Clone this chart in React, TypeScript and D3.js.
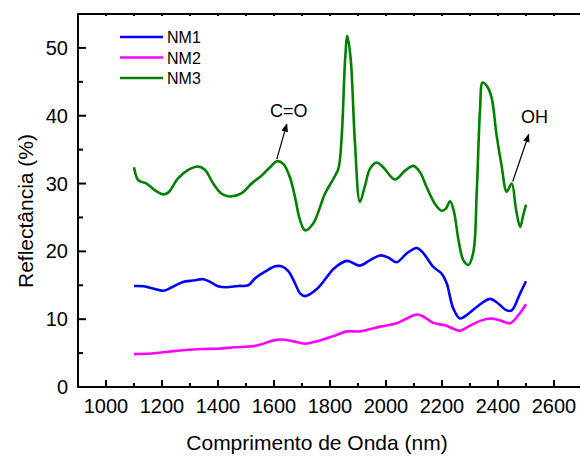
import React from 'react';
import * as d3 from 'd3';

// NM1 (blue)
const nm1Wave = [1100, 1135, 1170, 1205, 1235, 1275, 1310, 1348, 1372, 1400, 1430, 1472, 1508, 1532, 1568, 1604, 1627, 1651, 1675, 1693, 1711, 1752, 1794, 1812, 1860, 1907, 1943, 1979, 2008, 2038, 2074, 2110, 2133, 2169, 2199, 2217, 2240, 2264, 2288, 2324, 2371, 2395, 2431, 2449, 2479, 2500];
const nm1Refl = [14.9, 14.85, 14.5, 14.2, 14.7, 15.5, 15.7, 15.9, 15.5, 14.85, 14.7, 14.9, 15.0, 16.0, 17.0, 17.8, 17.8, 17.1, 15.3, 13.8, 13.4, 14.4, 16.5, 17.4, 18.6, 17.9, 18.7, 19.4, 19.1, 18.4, 19.7, 20.5, 19.75, 17.7, 16.7, 15.25, 11.6, 10.1, 10.6, 11.8, 13.0, 12.5, 11.3, 11.3, 13.8, 15.6];

// NM2 (magenta)
const nm2Wave = [1100, 1163, 1223, 1282, 1342, 1401, 1461, 1520, 1556, 1592, 1627, 1663, 1711, 1758, 1812, 1860, 1907, 1979, 2038, 2074, 2110, 2133, 2169, 2211, 2240, 2264, 2294, 2336, 2377, 2413, 2443, 2473, 2500];
const nm2Refl = [4.85, 4.95, 5.2, 5.45, 5.6, 5.65, 5.85, 6.0, 6.3, 6.8, 7.0, 6.8, 6.4, 6.8, 7.5, 8.2, 8.2, 8.9, 9.4, 10.1, 10.7, 10.4, 9.45, 9.1, 8.6, 8.3, 8.9, 9.75, 10.1, 9.75, 9.4, 10.6, 12.2];

// NM3 (green)
const nm3Wave = [1100, 1115, 1145, 1175, 1205, 1223, 1258, 1294, 1330, 1354, 1383, 1413, 1443, 1485, 1520, 1556, 1586, 1610, 1633, 1657, 1675, 1693, 1711, 1740, 1782, 1812, 1830, 1842, 1854, 1862, 1874, 1889, 1907, 1925, 1943, 1967, 1990, 2032, 2068, 2098, 2121, 2145, 2175, 2199, 2214, 2229, 2243, 2258, 2276, 2294, 2312, 2324, 2336, 2345, 2360, 2377, 2395, 2413, 2431, 2449, 2464, 2479, 2490, 2500];
const nm3Refl = [32.4, 30.5, 30.0, 29.0, 28.4, 28.7, 30.8, 32.0, 32.5, 32.0, 30.0, 28.5, 28.1, 28.6, 30.0, 31.2, 32.4, 33.3, 32.9, 30.9, 28.0, 24.6, 23.1, 24.1, 28.5, 30.7, 32.2, 37.1, 48.3, 51.8, 48.3, 36.1, 27.3, 29.7, 32.2, 33.1, 32.4, 30.6, 31.9, 32.6, 31.7, 29.5, 27.0, 26.0, 26.3, 27.4, 25.8, 21.9, 18.7, 18.0, 19.9, 28.7, 41.0, 44.9, 44.4, 42.7, 37.1, 32.6, 28.8, 30.0, 26.3, 23.6, 25.3, 26.9];

const seriesNames = ['NM1', 'NM2', 'NM3'];
const seriesColors = ['#0000ff', '#ff00ff', '#008000'];

const xMajorTicks = [1000, 1200, 1400, 1600, 1800, 2000, 2200, 2400, 2600];
const xMinorTicks = [900, 1100, 1300, 1500, 1700, 1900, 2100, 2300, 2500, 2700];
const yMajorTicks = [0, 10, 20, 30, 40, 50];
const yMinorTicks = [5, 15, 25, 35, 45];

// annotations: [label, wavelength at curve, reflectance at curve]
const annCO = { label: 'C=O', wave: 1610, refl: 33.3 };
const annOH = { label: 'OH', wave: 2449, refl: 30.0 };

const W = 580, H = 458;
const left = 78, right = 582, top = 14, bottom = 387;
const font = '"Liberation Sans", Arial, sans-serif';

export default function App() {
  const x = d3.scaleLinear().domain([900, 2700]).range([left, right]);
  const y = d3.scaleLinear().domain([0, 55]).range([bottom, top]);

  const line = d3.line<[number, number]>()
    .x(d => x(d[0]))
    .y(d => y(d[1]))
    .curve(d3.curveCatmullRom.alpha(0.5));

  const series = [
    d3.zip(nm1Wave, nm1Refl) as [number, number][],
    d3.zip(nm2Wave, nm2Refl) as [number, number][],
    d3.zip(nm3Wave, nm3Refl) as [number, number][],
  ];

  const coX = x(annCO.wave), coY = y(annCO.refl);
  const ohX = x(annOH.wave), ohY = y(annOH.refl);

  return (
    <svg width={W} height={H} style={{ position: 'absolute', left: 0, top: 0 }} fontFamily={font}>
      <defs>
        <marker id="arr" viewBox="0 0 10 10" refX="9" refY="5" markerWidth="7" markerHeight="7" orient="auto">
          <path d="M0,1 L10,5 L0,9 z" fill="#000" />
        </marker>
      </defs>
      <rect width={W} height={H} fill="#fff" />

      {series.map((s, i) => (
        <path key={i} d={line(s) || ''} fill="none" stroke={seriesColors[i]} strokeWidth={2.6} strokeLinejoin="round" />
      ))}

      {/* frame */}
      <line x1={left} x2={left} y1={top - 1} y2={bottom + 1} stroke="#000" strokeWidth={2} />
      <line x1={left - 1} x2={W} y1={bottom} y2={bottom} stroke="#000" strokeWidth={2} />
      <line x1={left - 1} x2={W} y1={top} y2={top} stroke="#000" strokeWidth={2} />

      {xMajorTicks.map(t => (
        <g key={'xM' + t}>
          <line x1={x(t)} x2={x(t)} y1={bottom} y2={bottom - 7} stroke="#000" strokeWidth={2} />
          <line x1={x(t)} x2={x(t)} y1={top} y2={top + 2} stroke="#000" strokeWidth={2} />
          <text x={x(t)} y={413} textAnchor="middle" fontSize={20}>{t}</text>
        </g>
      ))}
      {xMinorTicks.map(t => (
        <g key={'xm' + t}>
          <line x1={x(t)} x2={x(t)} y1={bottom} y2={bottom - 4} stroke="#000" strokeWidth={2} />
          <line x1={x(t)} x2={x(t)} y1={top} y2={top + 2} stroke="#000" strokeWidth={2} />
        </g>
      ))}
      {yMajorTicks.map(t => (
        <g key={'yM' + t}>
          <line x1={left} x2={left + 8} y1={y(t)} y2={y(t)} stroke="#000" strokeWidth={2} />
          <text x={68} y={y(t) + 7} textAnchor="end" fontSize={20}>{t}</text>
        </g>
      ))}
      {yMinorTicks.map(t => (
        <line key={'ym' + t} x1={left} x2={left + 5} y1={y(t)} y2={y(t)} stroke="#000" strokeWidth={2} />
      ))}

      <text x={317} y={450} textAnchor="middle" fontSize={21}>Comprimento de Onda (nm)</text>
      <text transform="translate(33,211) rotate(-90)" textAnchor="middle" fontSize={21}>Reflectância (%)</text>

      {/* legend */}
      {seriesNames.map((n, i) => (
        <g key={n} transform={`translate(120,${37 + i * 20.5})`}>
          <line x1={0} x2={43} y1={0} y2={0} stroke={seriesColors[i]} strokeWidth={2.6} />
          <text x={47} y={6} fontSize={16}>{n}</text>
        </g>
      ))}

      {/* annotations */}
      <line x1={coX} y1={coY - 2} x2={coX + 10} y2={coY - 37} stroke="#000" strokeWidth={1.2} markerEnd="url(#arr)" />
      <text x={270} y={116.5} fontSize={18}>{annCO.label}</text>
      <line x1={ohX + 1} y1={ohY - 2} x2={ohX + 17} y2={ohY - 49} stroke="#000" strokeWidth={1.2} markerEnd="url(#arr)" />
      <text x={521} y={123} fontSize={18}>{annOH.label}</text>
    </svg>
  );
}
